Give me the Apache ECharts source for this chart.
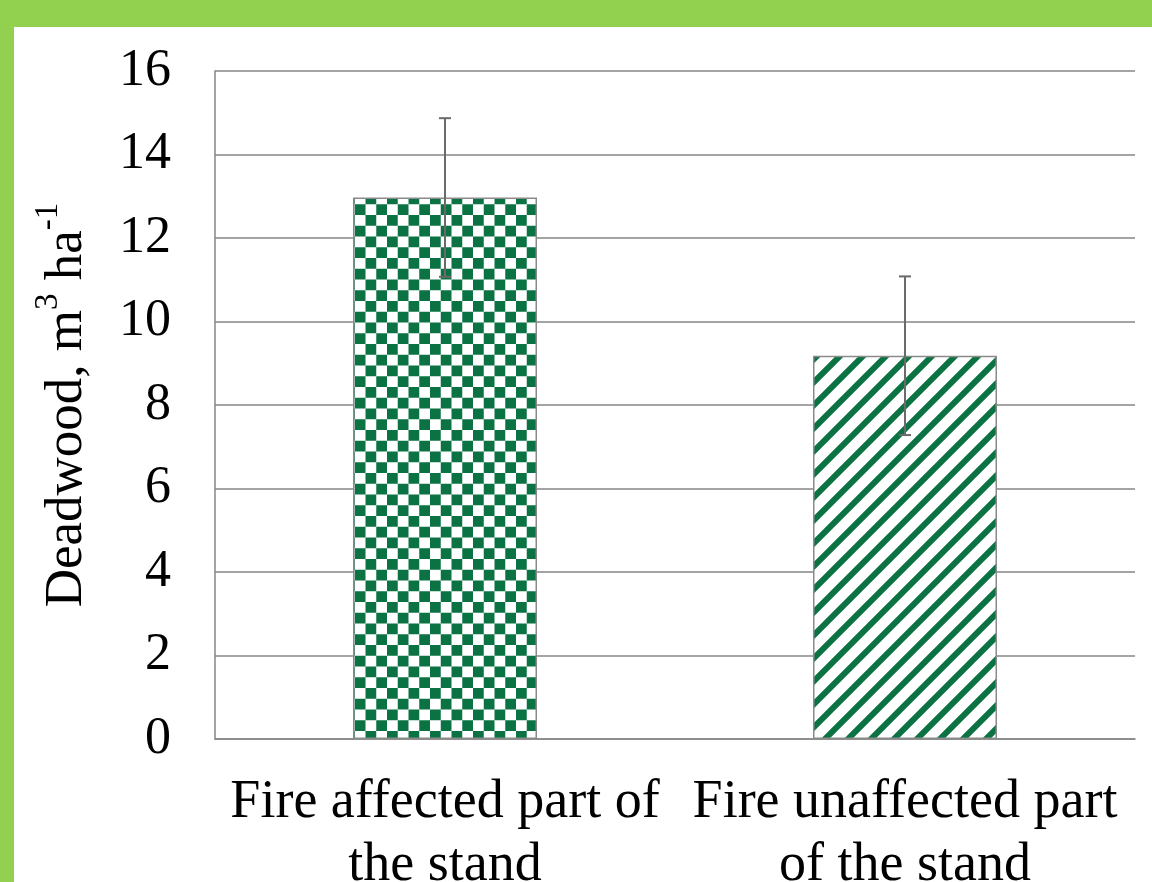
<!DOCTYPE html>
<html>
<head>
<meta charset="utf-8">
<script src="https://cdn.jsdelivr.net/npm/echarts@6/dist/echarts.min.js"></script>
<style>
  html, body { margin: 0; padding: 0; background: #fff; }
  #chart { width: 1152px; height: 882px; }
</style>
</head>
<body>
<div id="chart"></div>
<script>
// data
const categories = ['Fire affected part of\nthe stand', 'Fire unaffected part\nof the stand'];
const deadwood = [12.97, 9.18];
const errors = [1.9, 1.9];
const yTicks = { min: 0, max: 16, interval: 2 };

const green = '#0b7343';
const gray = '#868686';
const serif = 'Liberation Serif';

// checkerboard fill
function checker() {
  const c = document.createElement('canvas');
  c.width = c.height = 43;
  const ctx = c.getContext('2d');
  ctx.fillStyle = '#fff';
  ctx.fillRect(0, 0, 43, 43);
  ctx.fillStyle = green;
  const s = 43 / 4;
  for (let i = 0; i < 4; i++) {
    for (let j = 0; j < 4; j++) {
      if ((i + j) % 2 === 0) ctx.fillRect(i * s, j * s, s, s);
    }
  }
  return c;
}

// diagonal stripes "/"
function stripes() {
  const p = 23;
  const c = document.createElement('canvas');
  c.width = c.height = p;
  const ctx = c.getContext('2d');
  ctx.fillStyle = '#fff';
  ctx.fillRect(0, 0, p, p);
  ctx.strokeStyle = green;
  ctx.lineWidth = 6;
  ctx.beginPath();
  [0, p, 2 * p].forEach(function (s) {
    ctx.moveTo(s + 20, -20);
    ctx.lineTo(-20, s + 20);
  });
  ctx.stroke();
  return c;
}

const fills = [checker(), stripes()];

const myChart = echarts.init(document.getElementById('chart'));
myChart.setOption({
  animation: false,
  graphic: [
    { type: 'rect', z: 100, shape: { x: 0, y: 0, width: 1152, height: 27 }, style: { fill: '#92d050' } },
    { type: 'rect', z: 100, shape: { x: 0, y: 0, width: 14, height: 882 }, style: { fill: '#92d050' } }
  ],
  grid: { left: 215, right: 17, top: 71, bottom: 143, containLabel: false, outerBoundsMode: 'none' },
  xAxis: {
    type: 'category',
    data: categories,
    axisTick: { show: false },
    axisLine: { lineStyle: { color: gray, width: 1.5 } },
    axisLabel: {
      interval: 0,
      margin: 32,
      color: '#000',
      fontFamily: serif,
      fontSize: 54,
      lineHeight: 63
    }
  },
  yAxis: {
    type: 'value',
    min: yTicks.min,
    max: yTicks.max,
    interval: yTicks.interval,
    name: 'Deadwood, m{sup|3} ha{sup|-1}',
    nameLocation: 'middle',
    nameGap: 113,
    nameRotate: 90,
    nameTextStyle: {
      color: '#000',
      fontFamily: serif,
      fontSize: 53,
      lineHeight: 70,
      rich: {
        sup: { fontFamily: serif, fontSize: 33, lineHeight: 22, verticalAlign: 'top', color: '#000' }
      }
    },
    axisLine: { show: true, lineStyle: { color: gray, width: 1.5 } },
    axisTick: { show: false },
    axisLabel: { color: '#000', fontFamily: serif, fontSize: 52, margin: 44 },
    splitLine: { lineStyle: { color: gray, width: 1.5 } }
  },
  series: [
    {
      type: 'bar',
      barWidth: '40%',
      data: deadwood.map(function (v, i) {
        return {
          value: v,
          itemStyle: {
            color: { image: fills[i], repeat: 'repeat' },
            borderColor: '#8a8a8a',
            borderWidth: 1.5
          }
        };
      })
    },
    {
      type: 'custom',
      z: 10,
      data: deadwood.map(function (v, i) { return [i, v - errors[i], v + errors[i]]; }),
      renderItem: function (params, api) {
        const lo = api.coord([api.value(0), api.value(1)]);
        const hi = api.coord([api.value(0), api.value(2)]);
        const w = 6;
        const style = { stroke: '#6a6a6a', lineWidth: 2 };
        return {
          type: 'group',
          children: [
            { type: 'line', shape: { x1: hi[0], y1: hi[1], x2: lo[0], y2: lo[1] }, style: style },
            { type: 'line', shape: { x1: hi[0] - w, y1: hi[1], x2: hi[0] + w, y2: hi[1] }, style: style },
            { type: 'line', shape: { x1: lo[0] - w, y1: lo[1], x2: lo[0] + w, y2: lo[1] }, style: style }
          ]
        };
      }
    }
  ]
});
</script>
</body>
</html>
